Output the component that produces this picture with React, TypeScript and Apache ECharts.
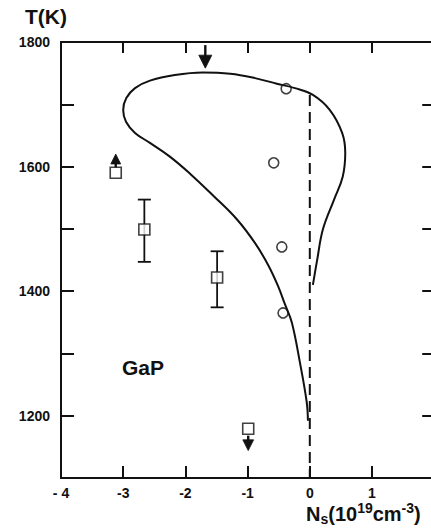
import React, { useEffect, useRef } from 'react';
import * as echarts from 'echarts';

// Axis ticks
const xTickValues = [-4, -3, -2, -1, 0, 1];
const yLabelValues = [1200, 1400, 1600, 1800];

// Model curve (N_s vs T), traced in drawing order
const curveX = [-0.03, -0.05, -0.16, -0.29, -0.40, -0.51, -0.67, -0.88, -1.17, -1.56, -1.93, -2.25, -2.57, -2.81, -2.955, -3.0, -2.95, -2.81, -2.57, -2.17, -1.72, -1.28, -0.88, -0.53, -0.24, 0.05, 0.32, 0.52, 0.57, 0.53, 0.39, 0.21, 0.12, 0.05];
const curveY = [1192, 1222, 1286, 1350, 1379, 1408, 1442, 1477, 1515, 1554, 1589, 1616, 1638, 1654, 1672, 1691, 1710, 1726, 1738, 1747, 1751, 1749, 1742, 1733, 1726, 1715, 1691, 1654, 1622, 1584, 1547, 1499, 1451, 1410];

// Dashed reference line N_s = 0
const dashX = [0, 0];
const dashY = [1715, 1100];

// Open circles
const circleX = [-0.38, -0.58, -0.45, -0.43];
const circleY = [1725, 1606, 1471, 1365];

// Open squares
const squareX = [-3.12, -2.66, -1.49, -0.99];
const squareY = [1590, 1499, 1422, 1179];

// Error bars
const errX = [-2.66, -1.49];
const errLow = [1447, 1374];
const errHigh = [1547, 1464];

// Arrows (tail -> tip)
const arrowX = [-1.68, -3.12, -0.99];
const arrowTail = [1795, 1598, 1168];
const arrowTip = [1758, 1620, 1144];

const INK = '#111';
const FONT = '"Liberation Sans", Arial, sans-serif';

export default function App() {
  const ref = useRef<HTMLDivElement>(null);

  useEffect(() => {
    if (!ref.current) return;
    const chart = echarts.init(ref.current, null, { renderer: 'svg' });

    const axisLine = { show: true, onZero: false, lineStyle: { color: INK, width: 2 } };
    const tickStyle = { color: INK, width: 2 };

    const option: any = {
      animation: false,
      backgroundColor: '#fff',
      grid: { left: 61, top: 42, width: 373.2, height: 436, outerBoundsMode: 'none', containLabel: false },
      xAxis: [
        {
          type: 'value', min: -4, max: 2, interval: 1, position: 'bottom',
          axisLine, splitLine: { show: false },
          axisTick: { show: true, inside: true, length: 12, lineStyle: tickStyle },
          axisLabel: {
            color: INK, fontSize: 14, fontWeight: 'bold', fontFamily: FONT, margin: 8,
            formatter: (v: number) => (xTickValues.includes(v) ? (v === -4 ? '- 4' : String(v)) : ''),
          },
        },
        {
          type: 'value', min: -4, max: 2, interval: 1, position: 'top',
          axisLine, splitLine: { show: false },
          axisTick: { show: true, inside: true, length: 11, lineStyle: tickStyle },
          axisLabel: { show: false },
        },
      ],
      yAxis: [
        {
          type: 'value', min: 1100, max: 1800, interval: 100, position: 'left',
          axisLine, splitLine: { show: false },
          axisTick: { show: true, inside: true, length: 13, lineStyle: tickStyle },
          axisLabel: {
            color: INK, fontSize: 14, fontWeight: 'bold', fontFamily: FONT, margin: 11,
            showMinLabel: true, showMaxLabel: true,
            formatter: (v: number) => (yLabelValues.includes(v) ? String(v) : ''),
          },
        },
        {
          type: 'value', min: 1100, max: 1800, interval: 100, position: 'right',
          axisLine, splitLine: { show: false },
          axisTick: { show: true, inside: true, length: 12, lineStyle: tickStyle },
          axisLabel: { show: false },
        },
      ],
      graphic: [
        {
          type: 'text', left: 25, top: 6,
          style: { text: 'T(K)', fill: INK, font: `bold 21px ${FONT}` },
        },
        {
          type: 'text', left: 122, top: 357,
          style: { text: 'GaP', fill: INK, font: `bold 21px ${FONT}` },
        },
        {
          type: 'text', left: 306, top: 501,
          style: {
            text: '{m|N}{sub|s}{m|(10}{sup|19}{m|cm}{sup|-3}{m|)}',
            fill: INK,
            rich: {
              m: { fontSize: 20, fontWeight: 'bold', fontFamily: FONT, lineHeight: 25, fill: INK },
              sub: { fontSize: 14, fontWeight: 'bold', fontFamily: FONT, lineHeight: 14, verticalAlign: 'bottom', fill: INK },
              sup: { fontSize: 14, fontWeight: 'bold', fontFamily: FONT, lineHeight: 14, verticalAlign: 'top', fill: INK },
            },
          },
        },
      ],
      series: [
        {
          type: 'line', name: 'model',
          data: curveX.map((x, i) => [x, curveY[i]]),
          smooth: 0.4, symbol: 'none',
          lineStyle: { color: INK, width: 2 },
        },
        {
          type: 'line', name: 'zero',
          data: dashX.map((x, i) => [x, dashY[i]]),
          symbol: 'none',
          lineStyle: { color: INK, width: 2, type: [11, 6] },
        },
        {
          type: 'custom', name: 'errors',
          data: errX.map((x, i) => [x, errLow[i], errHigh[i]]),
          renderItem: (_p: any, api: any) => {
            const x = api.value(0);
            const lo = api.coord([x, api.value(1)]);
            const hi = api.coord([x, api.value(2)]);
            const cap = 6.5;
            const st = { stroke: INK, lineWidth: 1.8 };
            return {
              type: 'group',
              children: [
                { type: 'line', shape: { x1: lo[0], y1: lo[1], x2: hi[0], y2: hi[1] }, style: st },
                { type: 'line', shape: { x1: lo[0] - cap, y1: lo[1], x2: lo[0] + cap, y2: lo[1] }, style: st },
                { type: 'line', shape: { x1: hi[0] - cap, y1: hi[1], x2: hi[0] + cap, y2: hi[1] }, style: st },
              ],
            };
          },
        },
        {
          type: 'custom', name: 'arrows',
          data: arrowX.map((x, i) => [x, arrowTail[i], arrowTip[i]]),
          renderItem: (_p: any, api: any) => {
            const x = api.value(0);
            const tail = api.coord([x, api.value(1)]);
            const tip = api.coord([x, api.value(2)]);
            const len = Math.abs(tip[1] - tail[1]);
            const dir = tip[1] > tail[1] ? 1 : -1;
            const h = Math.min(13, len * 0.72);
            const w = h * 0.5;
            const baseY = tip[1] - dir * h;
            return {
              type: 'group',
              children: [
                { type: 'line', shape: { x1: tail[0], y1: tail[1], x2: tail[0], y2: baseY + dir * 1 }, style: { stroke: INK, lineWidth: 2.4 } },
                { type: 'polygon', shape: { points: [[tip[0], tip[1]], [tip[0] - w, baseY], [tip[0] + w, baseY]] }, style: { fill: INK, stroke: INK, lineWidth: 0.8 } },
              ],
            };
          },
        },
        {
          type: 'scatter', name: 'gap',
          data: circleX.map((x, i) => [x, circleY[i]]),
          symbol: 'circle', symbolSize: 16,
          itemStyle: { color: '#fff', borderWidth: 0 },
        },
        {
          type: 'scatter', name: 'circles',
          data: circleX.map((x, i) => [x, circleY[i]]),
          symbol: 'circle', symbolSize: 10,
          itemStyle: { color: '#fff', borderColor: INK, borderWidth: 1.6 },
        },
        {
          type: 'scatter', name: 'squares',
          data: squareX.map((x, i) => [x, squareY[i]]),
          symbol: 'rect', symbolSize: 11,
          itemStyle: { color: '#fff', borderColor: INK, borderWidth: 1.6 },
        },
      ],
    };

    chart.setOption(option);
    return () => chart.dispose();
  }, []);

  return (
    <div
      ref={ref}
      style={{ position: 'absolute', left: 0, top: 0, width: 431, height: 529, background: '#fff' }}
    />
  );
}
